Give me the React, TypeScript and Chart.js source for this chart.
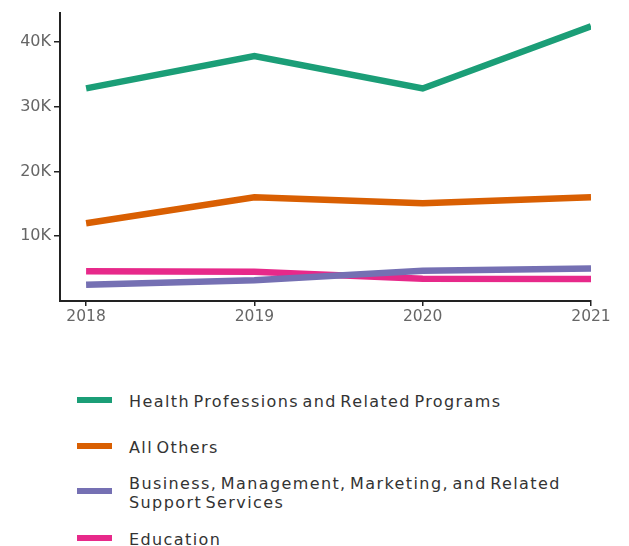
import React, { useEffect, useRef } from "react";
import { Chart, registerables } from "chart.js";

Chart.register(...registerables);

const years = [2018, 2019, 2020, 2021];
const seriesNames = [
  "Health Professions and Related Programs",
  "All Others",
  "Business, Management, Marketing, and Related Support Services",
  "Education",
];
const legendLines = [
  ["Health Professions and Related Programs"],
  ["All Others"],
  ["Business, Management, Marketing, and Related", "Support Services"],
  ["Education"],
];
const health = [32800, 37800, 32800, 42400];
const allOthers = [12000, 16000, 15100, 16000];
const business = [2500, 3200, 4650, 5000];
const education = [4600, 4500, 3450, 3400];
const yTicks = [10000, 20000, 30000, 40000];
const colors = ["#1b9e77", "#d95f02", "#7570b3", "#e7298a"];

const FONT = "'DejaVu Sans', sans-serif";

export default function App() {
  const ref = useRef<HTMLCanvasElement>(null);
  useEffect(() => {
    if (!ref.current) return;
    const all = [health, allOthers, business, education];
    const chart = new Chart(ref.current, {
      type: "line",
      data: {
        datasets: all.map((vals, i) => ({
          label: seriesNames[i],
          data: vals.map((v, j) => ({ x: years[j], y: v })),
          borderColor: colors[i],
          backgroundColor: colors[i],
          borderWidth: 6.5,
          pointRadius: 0,
          tension: 0,
          borderCapStyle: "butt" as const,
        })),
      },
      options: {
        animation: false,
        responsive: false,
        layout: { padding: { top: 11, right: 38, left: 0, bottom: 0 } },
        plugins: { legend: { display: false }, tooltip: { enabled: false } },
        scales: {
          x: {
            type: "linear",
            min: 2017.845,
            max: 2021,
            afterBuildTicks: (s: any) => {
              s.ticks = years.map((v) => ({ value: v }));
            },
            afterFit: (s: any) => {
              s.height = 29;
            },
            border: { display: true, color: "#222", width: 2 },
            grid: { display: true, drawOnChartArea: false, drawTicks: true, tickLength: 5, color: "#222", lineWidth: 1.5 },
            ticks: {
              color: "#666",
              padding: 2,
              maxRotation: 0,
              font: { family: FONT, size: 15.5 },
              callback: (v: any) => String(v),
            },
          },
          y: {
            type: "linear",
            min: 0,
            max: 44500,
            afterBuildTicks: (s: any) => {
              s.ticks = yTicks.map((v) => ({ value: v }));
            },
            afterFit: (s: any) => {
              s.width = 60;
            },
            border: { display: true, color: "#222", width: 2 },
            grid: { display: true, drawOnChartArea: false, drawTicks: true, tickLength: 6, color: "#222", lineWidth: 1.5 },
            ticks: {
              color: "#666",
              padding: 3,
              font: { family: FONT, size: 16 },
              callback: (v: any) => `${Number(v) / 1000}K`,
            },
          },
        },
      },
    });
    return () => chart.destroy();
  }, []);

  const legendTops = [392, 438, 474, 530];
  return (
    <div style={{ position: "fixed", left: 0, top: 0, width: 629, height: 546, background: "#fff", overflow: "hidden" }}>
      <canvas ref={ref} width={629} height={330} style={{ position: "absolute", left: 0, top: 0, width: 629, height: 330 }} />
      {legendLines.map((lines, i) => (
        <div key={i} style={{ position: "absolute", left: 0, top: legendTops[i], width: 629 }}>
          <div
            style={{
              position: "absolute",
              left: 77,
              top: lines.length > 1 ? 14 : 5,
              width: 35,
              height: 6,
              background: colors[i],
            }}
          />
          <div
            style={{
              position: "absolute",
              left: 129,
              top: 0,
              fontFamily: FONT,
              fontSize: 16,
              letterSpacing: "1.4px",
              wordSpacing: "-3px",
              lineHeight: "19px",
              color: "#333",
              whiteSpace: "nowrap",
            }}
          >
            {lines.map((l, k) => (
              <div key={k}>{l}</div>
            ))}
          </div>
        </div>
      ))}
    </div>
  );
}
